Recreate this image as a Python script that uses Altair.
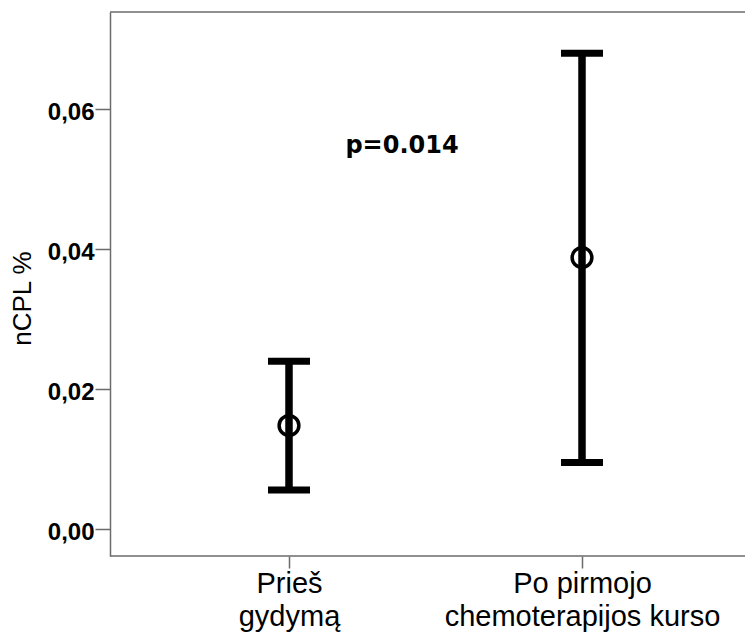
import altair as alt
import pandas as pd

# ---- data ----
groups = ["Prieš|gydymą", "Po pirmojo|chemoterapijos kurso"]
means = [0.0148, 0.0388]
lower = [0.0056, 0.0095]
upper = [0.0240, 0.0680]
p_label = ["p=0.014"]
p_y = [0.0548]
y_ticks = [0.0, 0.02, 0.04, 0.06]
y_domain = [-0.00385, 0.0739]

df = pd.DataFrame({"group": groups, "mean": means, "lo": lower, "hi": upper})

W, H = 635, 544
LINE = "#6b6b6b"

xscale = alt.Scale(type="point", domain=groups, range=[179, 472], padding=0)
yscale = alt.Scale(domain=y_domain, nice=False, zero=False)

x_axis = alt.Axis(
    title=None, labelExpr="split(datum.label, '|')", labelFont="Liberation Sans",
    labelFontSize=29, labelColor="black", labelLineHeight=33, labelAngle=0,
    labelLimit=0, tickSize=12, tickColor=LINE, tickWidth=1.5, domain=False,
    labelPadding=1, grid=False, labelBaseline="top",
)
y_axis = alt.Axis(
    title="nCPL %", titleFont="Liberation Sans", titleFontSize=26,
    titleFontWeight="normal", titleColor="black", titleX=-75, titleY=286,
    values=y_ticks, labelExpr="replace(format(datum.value, '.2f'), '.', ',')",
    labelFont="Liberation Sans", labelFontSize=24, labelFontWeight="bold",
    labelColor="black", tickSize=15, tickColor=LINE, tickWidth=1.5,
    domainColor=LINE, domainWidth=1.5, labelPadding=1, labelOffset=3, grid=False,
)

base = alt.Chart(df)
xenc = alt.X("group:N", scale=xscale, axis=x_axis, sort=groups)

stems = base.mark_rule(color="black", strokeWidth=7.5).encode(
    x=xenc, y=alt.Y("lo:Q", scale=yscale, axis=y_axis), y2="hi:Q"
)
caps_lo = base.mark_tick(color="black", size=42, thickness=7, orient="horizontal", opacity=1).encode(
    x=xenc, y=alt.Y("lo:Q", scale=yscale)
)
caps_hi = base.mark_tick(color="black", size=42, thickness=7, orient="horizontal", opacity=1).encode(
    x=xenc, y=alt.Y("hi:Q", scale=yscale)
)
pts = base.mark_point(shape="circle", filled=False, size=390, strokeWidth=3.5,
                      color="black", opacity=1).encode(
    x=xenc, y=alt.Y("mean:Q", scale=yscale)
)

frame_df = pd.DataFrame({"k": [0]})
top_line = alt.Chart(frame_df).mark_rule(color=LINE, strokeWidth=1.5).encode(
    x=alt.value(0), x2=alt.value(W), y=alt.value(0)
)
bottom_line = alt.Chart(frame_df).mark_rule(color=LINE, strokeWidth=1.5).encode(
    x=alt.value(0), x2=alt.value(W), y=alt.value(H)
)

ptext = alt.Chart(pd.DataFrame({"t": p_label, "y": p_y})).mark_text(
    font="DejaVu Sans", fontWeight="bold", fontSize=24, color="black",
    align="center", baseline="middle"
).encode(text="t:N", x=alt.value(292), y=alt.Y("y:Q", scale=yscale))

chart = alt.layer(top_line, bottom_line, stems, caps_lo, caps_hi, pts, ptext).properties(
    width=W, height=H,
    padding={"left": 102, "top": 4, "right": 0, "bottom": 80},
    autosize=alt.AutoSizeParams(type="none"),
).configure_view(stroke=None)

chart.save("out.html", embed_options={"renderer": "svg", "actions": False})
